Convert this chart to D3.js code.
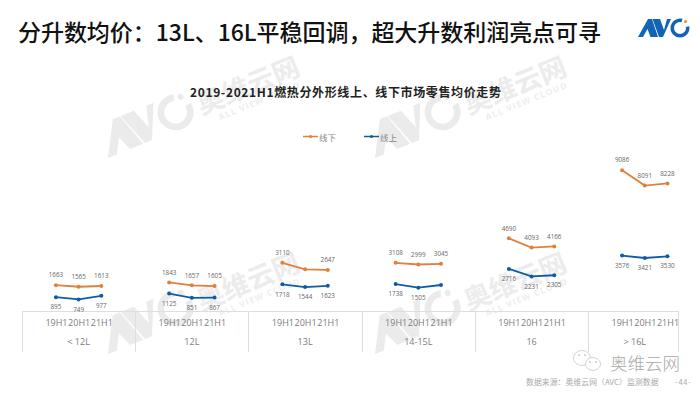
<!DOCTYPE html>
<html>
<head>
<meta charset="utf-8">
<script src="https://cdnjs.cloudflare.com/ajax/libs/d3/7.8.5/d3.min.js"></script>
<style>
    html, body { margin: 0; background: #fff; }
    text { font-family: "Noto Sans CJK SC", "Open Sans", sans-serif; }
    .num { font-family: "Open Sans", sans-serif; }
</style>
</head>
<body>
<div id="chart"></div>
<script>
const categories = ['< 12L', '12L', '13L', '14-15L', '16', '> 16L'];
const periods = ['19H1', '20H1', '21H1'];
const seriesNames = ['线下', '线上'];
const offline = [
    [1663, 1565, 1613],
    [1843, 1657, 1605],
    [3110, 2690, 2647],
    [3108, 2999, 3045],
    [4690, 4093, 4166],
    [9086, 8091, 8228]
];
const online = [
    [895, 749, 977],
    [1125, 851, 867],
    [1718, 1544, 1623],
    [1738, 1505, 1677],
    [2716, 2231, 2305],
    [3576, 3421, 3530]
];
// labels the reference leaves out: category index - period index
const hiddenOffline = ['2-1'];
const hiddenOnline = ['3-2'];

const ORANGE = '#e0803c';
const BLUE = '#0f5ca3';

const svg = d3.select('#chart').append('svg')
    .attr('width', 700)
    .attr('height', 394)
    .style('display', 'block');

// AVC mark, origin at the bottom left of the A, 51 wide and 18 high
function drawLogo(parent, color, dotColor) {
    parent.append('path').attr('fill', color)
        .attr('d', 'M0 0L10 -18L14 -18L20 0L12.5 0L9.5 -8L5 0Z');
    parent.append('path').attr('fill', color)
        .attr('d', 'M14.5 -18L22 -18L26 -7L29 -18L33 -18L25 0L21 0Z');
    parent.append('path').attr('fill', color)
        .attr('transform', 'translate(42,-9)')
        .attr('d', d3.arc()({
            innerRadius: 6,
            outerRadius: 9.5,
            startAngle: 80 * Math.PI / 180,
            endAngle: 375 * Math.PI / 180
        }));
    parent.append('circle').attr('cx', 47.5).attr('cy', -15.5).attr('r', 1.6).attr('fill', dotColor);
}

function drawWatermark(x, y) {
    const g = svg.append('g')
        .attr('transform', `translate(${x},${y}) rotate(-22)`);
    drawLogo(g.append('g').attr('transform', 'scale(1.9)'), '#ebebeb', '#ebebeb');
    g.append('text').attr('x', 103).attr('y', -5)
        .attr('font-size', 27).attr('font-weight', 700).attr('fill', '#ececec')
        .text('奥维云网');
    g.append('text').attr('x', 118).attr('y', 7)
        .attr('font-size', 8.5).attr('font-weight', 700).attr('letter-spacing', 1.2)
        .attr('fill', '#eeeeee')
        .style('font-family', '"Open Sans", sans-serif')
        .text('ALL VIEW CLOUD');
}
drawWatermark(108, 158);
drawWatermark(375, 158);
drawWatermark(108, 354);
drawWatermark(375, 354);

// title
svg.append('text').attr('x', 18).attr('y', 40.5)
    .attr('font-size', 23).attr('font-weight', 500).attr('fill', '#111')
    .attr('textLength', 583)
    .text('分升数均价：13L、16L平稳回调，超大升数利润亮点可寻');
svg.append('text').attr('x', 190).attr('y', 97)
    .attr('font-size', 12).attr('font-weight', 700).attr('fill', '#222')
    .attr('textLength', 311)
    .text('2019-2021H1燃热分外形线上、线下市场零售均价走势');

// logo
drawLogo(svg.append('g').attr('transform', 'translate(638,37)'), '#1265b5', '#f0923a');

// legend
const legendX = [303, 364];
seriesNames.forEach((name, i) => {
    const color = i === 0 ? ORANGE : BLUE;
    svg.append('line')
        .attr('x1', legendX[i]).attr('x2', legendX[i] + 15)
        .attr('y1', 136.5).attr('y2', 136.5)
        .attr('stroke', color).attr('stroke-width', 1.5);
    svg.append('circle').attr('cx', legendX[i] + 7.5).attr('cy', 136.5).attr('r', 1.6).attr('fill', color);
    svg.append('text').attr('x', legendX[i] + 16).attr('y', 141)
        .attr('font-size', 8.5).attr('fill', '#8a8a8a').text(name);
});

// scales
const x0 = d3.scaleBand().domain(d3.range(categories.length)).range([22, 701.4]).padding(0);
const xInner = d3.scalePoint().domain(periods).range([-22.7, 22.7]);
const y = d3.scaleLinear().domain([0, 10000]).range([311, 156]);

// table grid
const gridColor = '#dedede';
svg.append('line').attr('x1', 22).attr('x2', 679).attr('y1', 311.5).attr('y2', 311.5)
    .attr('stroke', gridColor);
categories.forEach((c, i) => {
    const lx = Math.round(x0(i)) + 0.5;
    svg.append('line').attr('x1', lx).attr('x2', lx).attr('y1', 311.5).attr('y2', 352)
        .attr('stroke', gridColor);
});
svg.append('line').attr('x1', 678.5).attr('x2', 678.5).attr('y1', 311.5).attr('y2', 352)
    .attr('stroke', gridColor);

// category axis
const catAxis = svg.append('g')
    .attr('transform', 'translate(0,336)')
    .call(d3.axisBottom(x0).tickSize(0).tickFormat(i => categories[i]));
catAxis.select('.domain').remove();
catAxis.selectAll('text')
    .style('font-family', '"Open Sans", sans-serif')
    .attr('font-size', 9).attr('fill', '#7c7c7c')
    .attr('dx', i => i === 5 ? -10 : 0);

const line = d3.line().x(d => xInner(d.period)).y(d => y(d.value));

categories.forEach((c, i) => {
    const cx = x0(i) + x0.bandwidth() / 2;
    const group = svg.append('g').attr('transform', `translate(${cx},0)`);

    const periodAxis = group.append('g')
        .attr('transform', 'translate(0,317)')
        .call(d3.axisBottom(xInner).tickSize(0));
    periodAxis.select('.domain').remove();
    periodAxis.selectAll('text')
        .style('font-family', '"Open Sans", sans-serif')
        .attr('font-size', 9).attr('fill', '#7c7c7c');

    [[offline[i], ORANGE, -10, hiddenOffline], [online[i], BLUE, 10, hiddenOnline]].forEach(([vals, color, offset, hidden]) => {
        const pts = vals.map((v, j) => ({ period: periods[j], value: v, key: `${i}-${j}` }));
        group.append('path').datum(pts)
            .attr('fill', 'none').attr('stroke', color).attr('stroke-width', 1.8)
            .attr('d', line);
        group.selectAll(null).data(pts).join('circle')
            .attr('cx', d => xInner(d.period)).attr('cy', d => y(d.value))
            .attr('r', 2).attr('fill', color);
        group.selectAll(null).data(pts.filter(d => !hidden.includes(d.key))).join('text')
            .attr('class', 'num')
            .attr('x', d => xInner(d.period)).attr('y', d => y(d.value) + offset + 2.2)
            .attr('text-anchor', 'middle').attr('font-size', 6.3).attr('fill', '#666')
            .text(d => d.value);
    });
});

// wechat mark + source
const wx = svg.append('g').attr('fill', '#fff').attr('stroke', '#d4d4d4').attr('stroke-width', 1);
wx.append('ellipse').attr('cx', 582).attr('cy', 358).attr('rx', 8.5).attr('ry', 7.5);
wx.append('ellipse').attr('cx', 593).attr('cy', 364).attr('rx', 7.5).attr('ry', 6.5);
[[579, 355], [585, 355], [590, 362], [596, 362]].forEach(p => {
    svg.append('circle').attr('cx', p[0]).attr('cy', p[1]).attr('r', 0.9).attr('fill', '#c4c4c4');
});
svg.append('text').attr('x', 610).attr('y', 370)
    .attr('font-size', 17.5).attr('font-weight', 300).attr('fill', '#a8a8a8')
    .text('奥维云网');
svg.append('text').attr('x', 526).attr('y', 384.5)
    .attr('font-size', 7.9).attr('fill', '#aaa')
    .text('数据来源：奥维云网（AVC）监测数据');
svg.append('text').attr('x', 675).attr('y', 384.5)
    .attr('font-size', 7.5).attr('letter-spacing', 0.8).attr('fill', '#aaa')
    .text('-44-');
</script>
</body>
</html>
